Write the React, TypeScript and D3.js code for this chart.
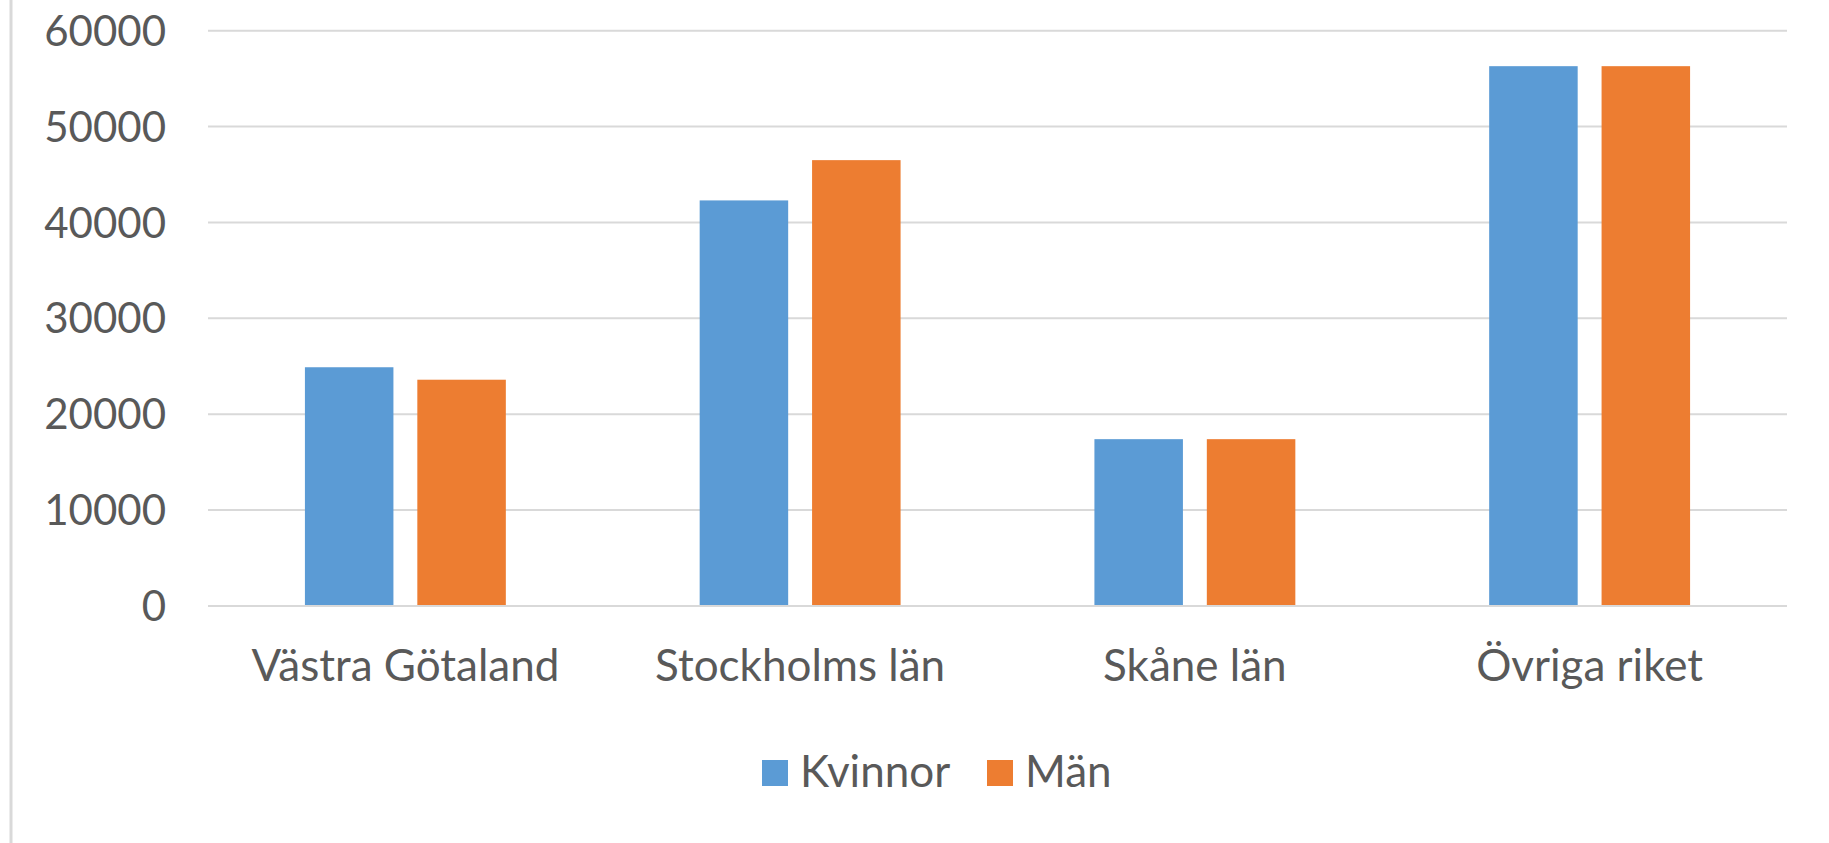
import React from "react";
import * as d3 from "d3";

const categories = ["Västra Götaland", "Stockholms län", "Skåne län", "Övriga riket"];
const seriesNames = ["Kvinnor", "Män"];
const kvinnor = [24900, 42300, 17400, 56300];
const man = [23600, 46500, 17400, 56300];
const yTicks = [0, 10000, 20000, 30000, 40000, 50000, 60000];
const colors = ["#5B9BD5", "#ED7D31"];

const W = 1829;
const H = 843;
const plotLeft = 208;
const plotRight = 1787;
const plotTop = 30.7;
const plotBottom = 606;
const FONT = "Lato, 'Open Sans', sans-serif";
const FS_TICK = 42;
const FS = 44;
const TEXT = "#595959";
const GRID = "#d9d9d9";

export default function App() {
  const values = [kvinnor, man];
  const x0 = d3.scaleBand<string>().domain(categories).range([plotLeft, plotRight]).paddingInner(0).paddingOuter(0);
  const bw = x0.bandwidth();
  // Excel defaults: gap width 219%, overlap -27%
  const barW = bw / (2 + 2.19 + 0.27);
  const gap = barW * 0.27;
  const groupW = 2 * barW + gap;
  const x1 = d3
    .scaleBand<string>()
    .domain(seriesNames)
    .range([(bw - groupW) / 2, (bw + groupW) / 2])
    .paddingInner(gap / (barW + gap))
    .paddingOuter(0);
  const y = d3.scaleLinear().domain([0, 60000]).range([plotBottom, plotTop]);

  const legendX = [762, 987];
  const legendY = 760;
  const sq = 26;

  return (
    <svg
      width={W}
      height={H}
      style={{ position: "absolute", left: 0, top: 0, background: "#fff" }}
      fontFamily={FONT}
    >
      <rect x={0} y={0} width={W} height={H} fill="#fff" />
      <line x1={11} x2={11} y1={0} y2={H} stroke={GRID} strokeWidth={3} />
      {yTicks.map((t) => (
        <g key={t}>
          <line x1={plotLeft} x2={plotRight} y1={y(t)} y2={y(t)} stroke={GRID} strokeWidth={2} />
          <text x={166} y={y(t)} dy="0.36em" textAnchor="end" fontSize={FS_TICK} fill={TEXT}>
            {t}
          </text>
        </g>
      ))}
      {categories.map((c, i) => (
        <g key={c} transform={`translate(${x0(c)},0)`}>
          {seriesNames.map((s, j) => (
            <rect
              key={s}
              x={x1(s)}
              y={y(values[j][i])}
              width={x1.bandwidth()}
              height={y(0) - y(values[j][i]) - 1}
              fill={colors[j]}
            />
          ))}
          <text x={bw / 2} y={681} textAnchor="middle" fontSize={FS} fill={TEXT}>
            {c}
          </text>
        </g>
      ))}
      {seriesNames.map((s, j) => (
        <g key={s}>
          <rect x={legendX[j]} y={legendY} width={sq} height={sq} fill={colors[j]} />
          <text x={legendX[j] + 38} y={787} fontSize={FS} fill={TEXT}>
            {s}
          </text>
        </g>
      ))}
    </svg>
  );
}
